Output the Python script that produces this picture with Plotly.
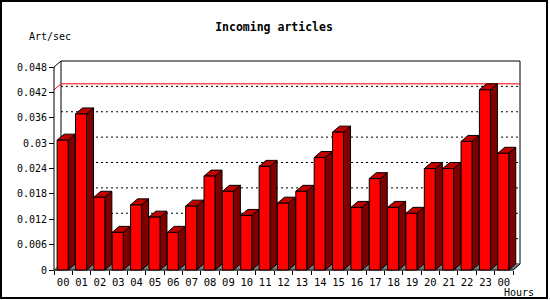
import plotly.graph_objects as go

# ---------------- data ----------------
hours = ["00", "01", "02", "03", "04", "05", "06", "07", "08", "09", "10", "11",
         "12", "13", "14", "15", "16", "17", "18", "19", "20", "21", "22", "23", "00"]
values = [0.0307, 0.0369, 0.0172, 0.0089, 0.0154, 0.0125, 0.0089, 0.0151, 0.0222,
          0.0186, 0.0129, 0.0245, 0.0158, 0.0186, 0.0266, 0.0326, 0.0148, 0.0216,
          0.0148, 0.0134, 0.0240, 0.0240, 0.0304, 0.0426, 0.0276]
y_ticks = [0, 0.006, 0.012, 0.018, 0.024, 0.030, 0.036, 0.042, 0.048]
y_labels = ["0", "0.006", "0.012", "0.018", "0.024", "0.03", "0.036", "0.042", "0.048"]

# ---------------- geometry ----------------
W, H = 550, 300
n = len(values)
YTOP = y_ticks[-1]
PX_X0, PX_X1 = 54, 513          # front x axis pixels
PX_Y0, PX_YT = 270, 67          # front y axis pixels (0 and top tick)
PPU_X = (PX_X1 - PX_X0) / n
PPU_Y = (PX_Y0 - PX_YT) / YTOP
DX = 7 / PPU_X                  # depth offset in data units
DY = 6 / PPU_Y
BL, BW = 0.17, 0.60             # bar left offset and width within slot

L, R, T, B = 50, 524, 56, 274   # plot-area pixels
x_range = [(L - PX_X0) / PPU_X, (R - PX_X0) / PPU_X]
y_range = [(PX_Y0 - B) / PPU_Y, (PX_Y0 - T) / PPU_Y]

MONO = "DejaVu Sans Mono"
DARK = "#800000"
TOPC = "#C00000"

fig = go.Figure()


def poly(xs, ys, fill, line="black", width=1, dash=None):
    fig.add_trace(go.Scatter(x=xs, y=ys, mode="lines", fill="toself" if fill else None,
                             fillcolor=fill, line=dict(color=line, width=width, dash=dash),
                             hoverinfo="skip", showlegend=False))


# back wall
poly([DX, n + DX, n + DX, DX, DX], [DY, DY, YTOP + DY, YTOP + DY, DY], "white")
# floor
poly([0, n, n + DX, DX, 0], [0, 0, DY, DY, 0], "#808080", line="#808080")
# dotted grid lines on back wall
gx, gy = [], []
for v in y_ticks[1:-1]:
    gx += [DX, n + DX, None]
    gy += [v + DY, v + DY, None]
poly(gx, gy, None, dash="2px,3px")
# red max line
m = max(values)
poly([0, DX, n + DX], [m, m + DY, m + DY], None, line="red")
# front axes and wall edges
poly([0, 0, n], [YTOP, 0, 0], None)
poly([0, DX], [YTOP, YTOP + DY], None)
poly([n, n + DX], [0, DY], None)

# bar faces: front, top, side
fx, fy, tx, ty, sx, sy = [], [], [], [], [], []
for i, v in enumerate(values):
    x0 = i + BL
    x1 = x0 + BW
    fx += [x0, x1, x1, x0, x0, None]
    fy += [0, 0, v, v, 0, None]
    tx += [x0, x1, x1 + DX, x0 + DX, x0, None]
    ty += [v, v, v + DY, v + DY, v, None]
    sx += [x1, x1 + DX, x1 + DX, x1, x1, None]
    sy += [0, DY, v + DY, v, 0, None]
poly(sx, sy, DARK)
poly(tx, ty, TOPC)
poly(fx, fy, "#FF0000")

pw, ph = R - L, B - T
fig.update_layout(
    width=W, height=H,
    margin=dict(l=L, r=W - R, t=T, b=H - B, pad=0),
    paper_bgcolor="white", plot_bgcolor="white",
    showlegend=False,
    title=dict(text="Incoming articles", x=274 / W, xanchor="center",
               y=1 - 27 / H, yref="container", yanchor="middle",
               font=dict(family=MONO, size=11.5, color="black", weight="bold")),
    xaxis=dict(range=x_range, showgrid=False, zeroline=False, showline=False,
               tickvals=[i + 0.5 for i in range(n)], ticktext=hours, ticks="",
               tickfont=dict(family=MONO, size=10.5, color="black"),
               ticklabelstandoff=4,
               minor=dict(tickvals=list(range(n + 1)), ticks="outside", ticklen=4,
                          tickcolor="black", tickwidth=1, showgrid=False),
               anchor="free", position=(B - PX_Y0) / ph, fixedrange=True),
    yaxis=dict(range=y_range, showgrid=False, zeroline=False, showline=False,
               tickvals=y_ticks, ticktext=y_labels, ticks="outside", ticklen=5,
               tickcolor="black", tickwidth=1,
               tickfont=dict(family=MONO, size=10, color="black"),
               anchor="free", position=(PX_X0 - L) / pw, fixedrange=True),
    annotations=[
        dict(text="Art/sec", xref="paper", yref="paper", x=(50 - L) / pw, y=(B - 37) / ph,
             xanchor="center", yanchor="middle", showarrow=False,
             font=dict(family=MONO, size=10, color="black")),
        dict(text="Hours", xref="paper", yref="paper", x=(519 - L) / pw, y=(B - 292) / ph,
             xanchor="center", yanchor="middle", showarrow=False,
             font=dict(family=MONO, size=10, color="black")),
    ],
    shapes=[dict(type="rect", xref="paper", yref="paper",
                 x0=(1 - L) / pw, x1=(547 - L) / pw, y0=(B - 298) / ph, y1=(B - 1) / ph,
                 line=dict(color="black", width=2), fillcolor="rgba(0,0,0,0)")],
)

fig.write_html("out.html", config={"displayModeBar": False})
